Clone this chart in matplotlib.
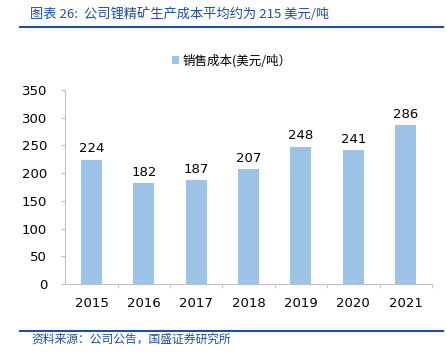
import matplotlib
matplotlib.use('Agg')
from matplotlib import pyplot as plt
from matplotlib.lines import Line2D

plt.rcParams['font.family'] = ['DejaVu Sans', 'Noto Sans CJK SC']

years = ['2015', '2016', '2017', '2018', '2019', '2020', '2021']
cost = [224, 182, 187, 207, 248, 241, 286]

fig = plt.figure(figsize=(4.46, 3.6), dpi=100)
ax = fig.add_axes([0.1464, 0.2111, 0.822, 0.539])

x = range(len(years))
bars = ax.bar(x, cost, width=0.4, color='#9DC3E6', label='销售成本(美元/吨）')
for xi, v in zip(x, cost):
    ax.text(xi, v + 8, str(v), ha='center', va='bottom', fontsize=9.5, color='#000000')

ax.set_xlim(-0.5, len(years) - 0.5)
ax.set_ylim(0, 350)
ax.set_yticks(range(0, 351, 50))
ax.set_xticks(list(x))
ax.set_xticklabels(years, fontsize=9.5)
ax.tick_params(axis='y', labelsize=9.5, length=3, color='#BFBFBF', direction='out', pad=10)
ax.tick_params(axis='x', length=0, pad=9)
# tick marks between categories
ax.set_xticks([i + 0.5 for i in range(len(years))], minor=True)
ax.tick_params(axis='x', which='minor', length=3, direction='out', color='#BFBFBF')
for s in ['top', 'right']:
    ax.spines[s].set_visible(False)
ax.spines['left'].set_color('#BFBFBF')
ax.spines['bottom'].set_color('#BFBFBF')

fig.legend(handles=[bars], loc='center', bbox_to_anchor=(0.52, 0.832), frameon=False,
           handlelength=0.6, handleheight=0.6, handletextpad=0.3,
           prop={'family': ['Noto Sans CJK SC'], 'size': 9})

blue = '#1F4E9A'
fig.text(0.067, 0.962, '图表 26:  公司锂精矿生产成本平均约为 215 美元/吨', fontsize=9.5,
         color=blue, style='italic', va='center', family=['Noto Sans CJK SC', 'DejaVu Sans'])
fig.add_artist(Line2D([0.045, 0.993], [0.925, 0.925], color=blue, lw=1.5))
fig.add_artist(Line2D([0.045, 0.993], [0.081, 0.081], color=blue, lw=1.5))
fig.text(0.07, 0.058, '资料来源：公司公告，国盛证券研究所', fontsize=8.5,
         color=blue, style='italic', va='center', family=['Noto Sans CJK SC'])

plt.savefig('out.png', dpi=100)
